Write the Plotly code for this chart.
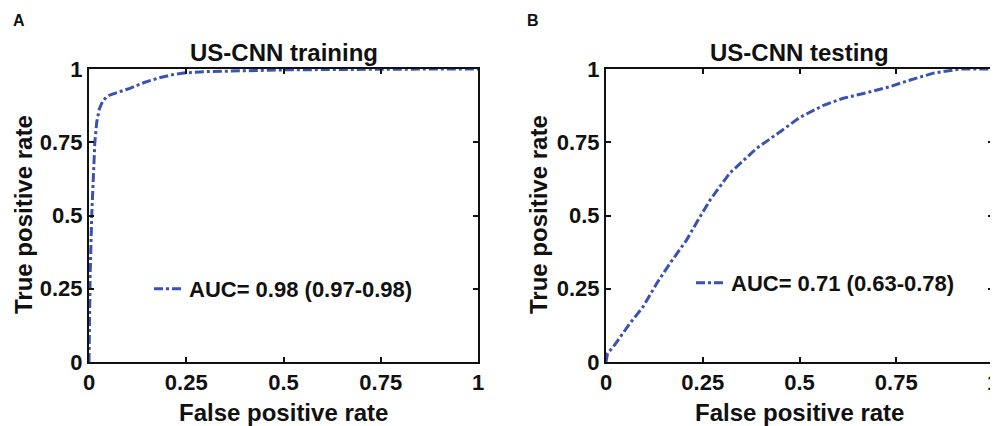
import plotly.graph_objects as go

# ---- data ----
fpr_train = [0, 0.003, 0.007, 0.011, 0.015, 0.02, 0.027, 0.035, 0.045, 0.055, 0.08, 0.105,
             0.14, 0.18, 0.22, 0.25, 0.3, 0.4, 0.5, 0.6, 0.75, 0.9, 1.0]
tpr_train = [0, 0.3, 0.5, 0.65, 0.75, 0.82, 0.865, 0.89, 0.905, 0.912, 0.922, 0.934,
             0.953, 0.97, 0.982, 0.987, 0.991, 0.995, 0.997, 0.998, 1.0, 1.0, 1.0]

fpr_test = [0, 0.004, 0.019, 0.062, 0.096, 0.131, 0.165, 0.208, 0.243, 0.27, 0.32, 0.389,
            0.45, 0.501, 0.562, 0.613, 0.682, 0.734, 0.78, 0.846, 0.915, 0.96, 1.0]
tpr_test = [0, 0.03, 0.052, 0.132, 0.189, 0.268, 0.336, 0.416, 0.496, 0.555, 0.645, 0.729,
            0.786, 0.835, 0.876, 0.9, 0.922, 0.94, 0.96, 0.986, 1.0, 1.0, 1.0]

tick_vals = [0, 0.25, 0.5, 0.75, 1]
tick_text = ["0", "0.25", "0.5", "0.75", "1"]

panel_titles = ["US-CNN training", "US-CNN testing"]
panel_letters = ["A", "B"]
legend_names = ["AUC= 0.98 (0.97-0.98)", "AUC= 0.71 (0.63-0.78)"]
x_title = "False positive rate"
y_title = "True positive rate"

# ---- layout helpers ----
W, H = 998, 426
OFF = 8  # page body margin offset
FONT = "Arial, Liberation Sans, Helvetica, sans-serif"
BLUE = "#3a52b3"
INK = "#111111"


def px(x):
    return (x - OFF) / W


def py(y):
    return 1 - (y - OFF) / H


fig = go.Figure()

fig.add_trace(go.Scatter(x=fpr_train, y=tpr_train, mode="lines", name=legend_names[0],
                         line=dict(color=BLUE, width=3, dash="dashdot"),
                         xaxis="x", yaxis="y", legend="legend"))
fig.add_trace(go.Scatter(x=fpr_test, y=tpr_test, mode="lines", name=legend_names[1],
                         line=dict(color=BLUE, width=3, dash="dashdot"),
                         xaxis="x2", yaxis="y2", legend="legend2"))

ydom = [py(362), py(69)]
axis_common = dict(range=[0, 1], tickvals=tick_vals, ticktext=tick_text,
                   showgrid=False, zeroline=False, showline=True, linecolor=INK,
                   linewidth=2, mirror="ticks", ticks="inside", ticklen=5,
                   tickwidth=1.5, tickcolor=INK, automargin=False,
                   tickfont=dict(family=FONT, size=22, color=INK, weight="bold"))

fig.update_layout(
    width=W, height=H,
    margin=dict(l=0, r=0, t=0, b=0, pad=0, autoexpand=False),
    paper_bgcolor="white", plot_bgcolor="white",
    xaxis=dict(domain=[px(89), px(478)], anchor="y", **axis_common),
    yaxis=dict(domain=ydom, anchor="x", **axis_common),
    xaxis2=dict(domain=[px(606), px(993)], anchor="y2", **axis_common),
    yaxis2=dict(domain=ydom, anchor="x2", **axis_common),
    legend=dict(x=px(149), y=py(289), xanchor="left", yanchor="middle",
                bgcolor="rgba(0,0,0,0)", borderwidth=0,
                font=dict(family=FONT, size=22, color=INK, weight="bold")),
    legend2=dict(x=px(691), y=py(283), xanchor="left", yanchor="middle",
                 bgcolor="rgba(0,0,0,0)", borderwidth=0,
                 font=dict(family=FONT, size=22, color=INK, weight="bold")),
    showlegend=True,
)

ann = []
centers = [(89 + 478) / 2, (606 + 993) / 2]
letter_x = [19, 533]
ytitle_x = [23, 538]
for i in range(2):
    ann.append(dict(text=panel_titles[i], x=px(centers[i]), y=py(53), xref="paper", yref="paper",
                    xanchor="center", yanchor="middle", showarrow=False,
                    font=dict(family=FONT, size=24, color=INK, weight="bold")))
    ann.append(dict(text=panel_letters[i], x=px(letter_x[i]), y=py(21), xref="paper", yref="paper",
                    xanchor="center", yanchor="middle", showarrow=False,
                    font=dict(family=FONT, size=16, color=INK, weight="bold")))
    ann.append(dict(text=x_title, x=px(centers[i]), y=py(412), xref="paper", yref="paper",
                    xanchor="center", yanchor="middle", showarrow=False,
                    font=dict(family=FONT, size=24, color=INK, weight="bold")))
    ann.append(dict(text=y_title, x=px(ytitle_x[i]), y=py(215), xref="paper", yref="paper",
                    xanchor="center", yanchor="middle", showarrow=False, textangle=-90,
                    font=dict(family=FONT, size=24, color=INK, weight="bold")))
fig.update_layout(annotations=ann)

fig.write_html("out.html")
